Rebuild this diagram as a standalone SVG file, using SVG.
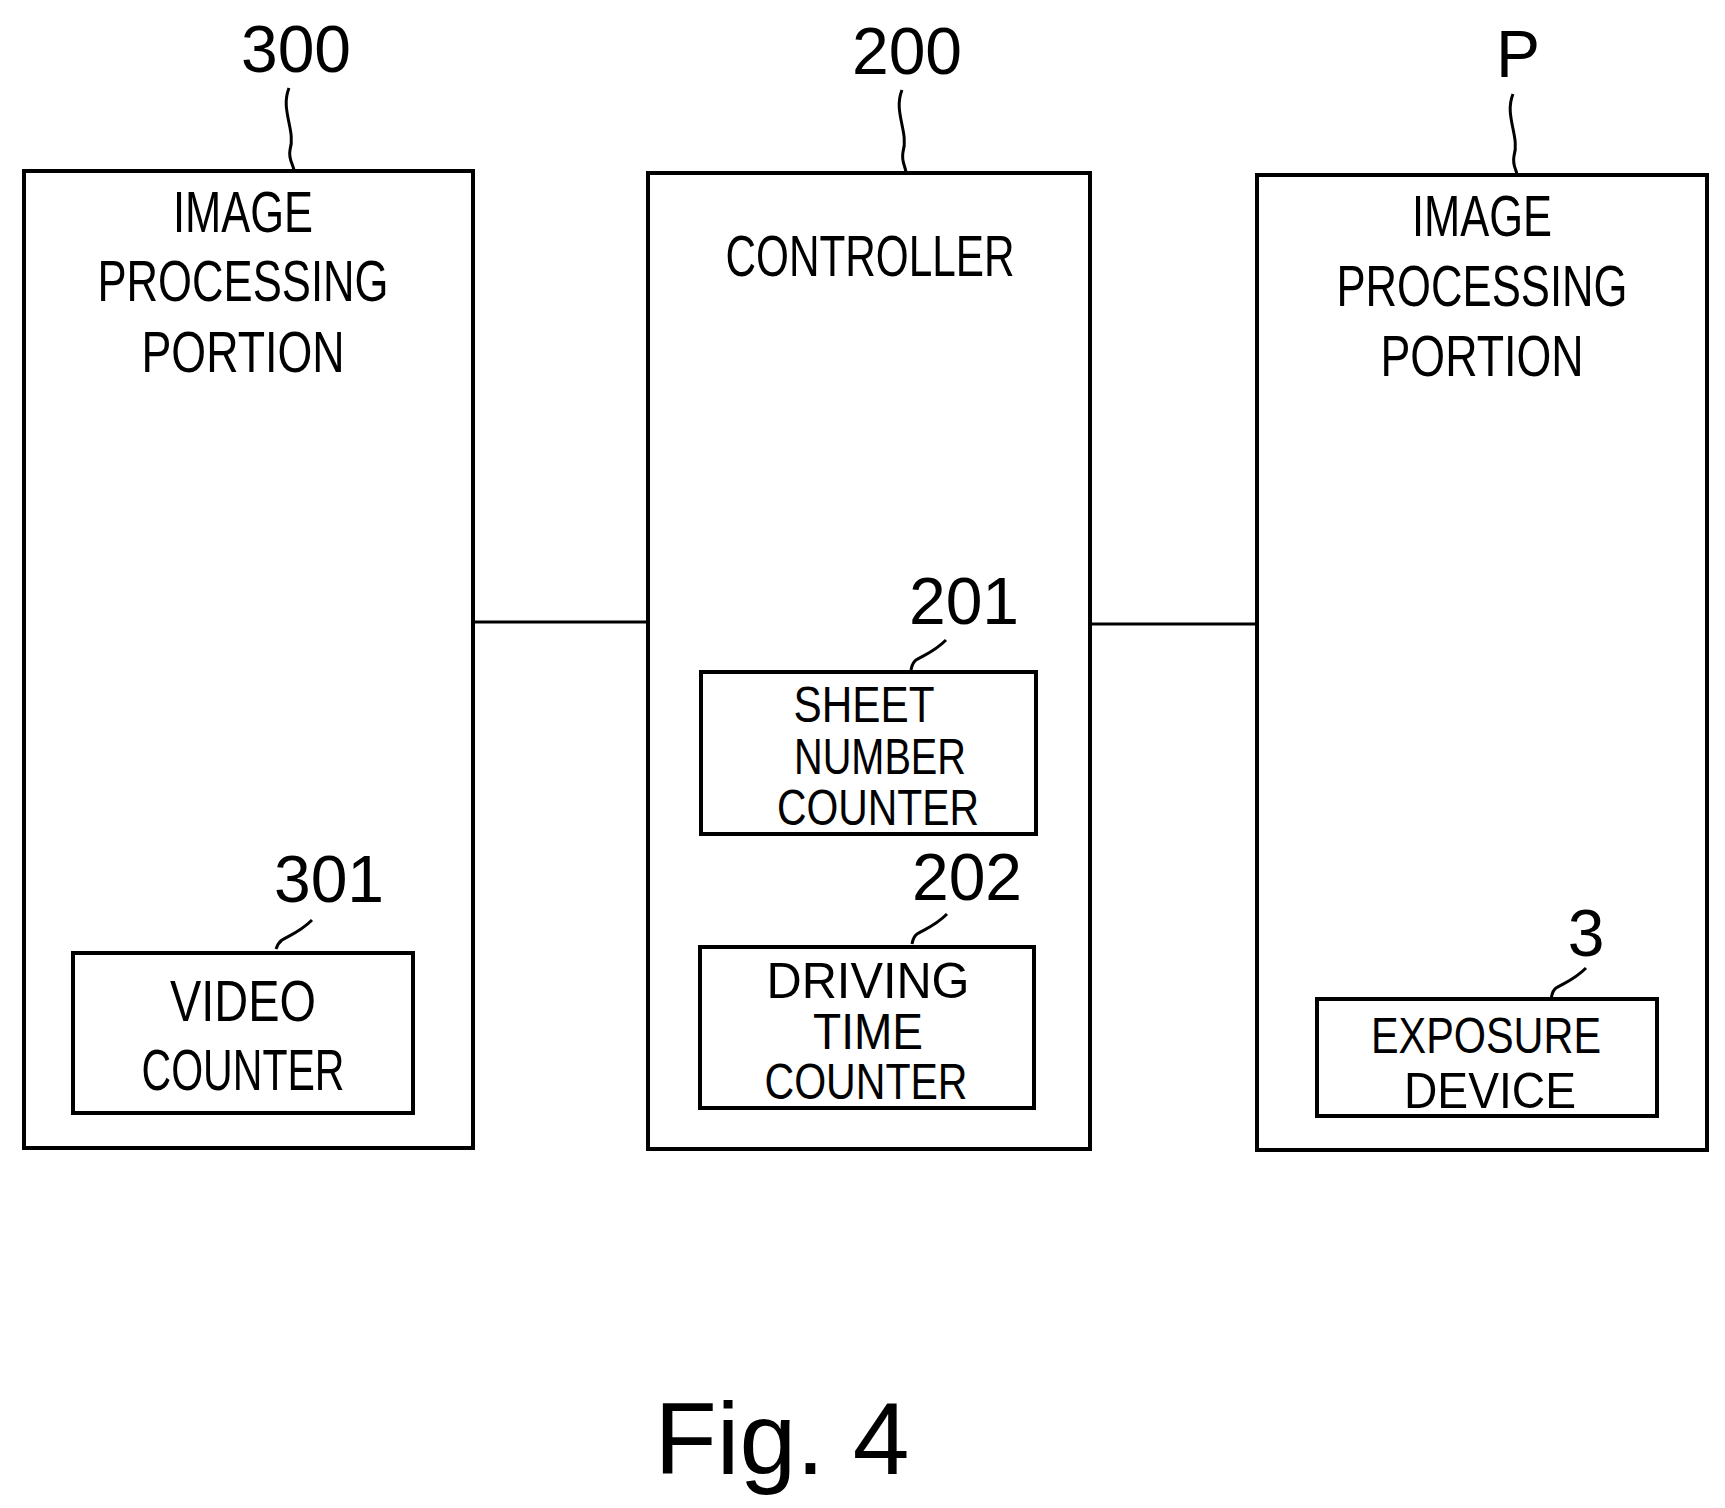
<svg xmlns="http://www.w3.org/2000/svg" width="1725" height="1508" viewBox="0 0 1725 1508">
<style>
rect.b{fill:none;stroke:#000;stroke-width:4}
.l{fill:none;stroke:#000;stroke-width:3}
text{font-family:"Liberation Sans",Arial,sans-serif;text-anchor:middle;fill:#000}
.n{font-size:66px}
.t{font-size:58px}
.s{font-size:50px}
</style>
<rect width="1725" height="1508" style="fill:#fff;stroke:none"/>
<g id="n300">
<text class="n" x="296" y="72">300</text>
<path class="l" d="M289 88 C280 110 296 130 290 150 C288 160 294 165 294 171"/>
<rect class="b" x="24" y="171" width="449" height="977"/>
<text class="t" x="243" y="232" textLength="140" lengthAdjust="spacingAndGlyphs">IMAGE</text>
<text class="t" x="243" y="301" textLength="291" lengthAdjust="spacingAndGlyphs">PROCESSING</text>
<text class="t" x="243" y="372" textLength="203" lengthAdjust="spacingAndGlyphs">PORTION</text>
</g>
<g id="n301">
<text class="n" x="329" y="902">301</text>
<path class="l" d="M312 920 C300 932 290 935 282 940 C278 943 277 946 276 949"/>
<rect class="b" x="73" y="953" width="340" height="160"/>
<text class="t" x="243" y="1021" textLength="146" lengthAdjust="spacingAndGlyphs">VIDEO</text>
<text class="t" x="243" y="1090" textLength="203" lengthAdjust="spacingAndGlyphs">COUNTER</text>
</g>
<g id="n200">
<text class="n" x="907" y="74">200</text>
<path class="l" d="M902 90 C893 112 909 132 903 152 C901 162 906 167 906 173"/>
<rect class="b" x="648" y="173" width="442" height="976"/>
<text class="t" x="870" y="276" textLength="289" lengthAdjust="spacingAndGlyphs">CONTROLLER</text>
</g>
<g id="n201">
<text class="n" x="964" y="624">201</text>
<path class="l" d="M946 640 C934 652 924 655 916 660 C912 663 912 666 911 670"/>
<rect class="b" x="701" y="672" width="335" height="162"/>
<text class="s" x="864" y="722" textLength="141" lengthAdjust="spacingAndGlyphs">SHEET</text>
<text class="s" x="880" y="774" textLength="172" lengthAdjust="spacingAndGlyphs">NUMBER</text>
<text class="s" x="878" y="825" textLength="202" lengthAdjust="spacingAndGlyphs">COUNTER</text>
</g>
<g id="n202">
<text class="n" x="967" y="900">202</text>
<path class="l" d="M947 914 C935 926 925 929 917 934 C913 937 913 940 912 944"/>
<rect class="b" x="700" y="947" width="334" height="161"/>
<text class="s" x="868" y="998" textLength="203" lengthAdjust="spacingAndGlyphs">DRIVING</text>
<text class="s" x="868" y="1049" textLength="110" lengthAdjust="spacingAndGlyphs">TIME</text>
<text class="s" x="866" y="1099" textLength="203" lengthAdjust="spacingAndGlyphs">COUNTER</text>
</g>
<g id="nP">
<text class="n" x="1518" y="77">P</text>
<path class="l" d="M1513 94 C1504 116 1520 136 1514 156 C1512 166 1517 170 1517 175"/>
<rect class="b" x="1257" y="175" width="450" height="975"/>
<text class="t" x="1482" y="236" textLength="140" lengthAdjust="spacingAndGlyphs">IMAGE</text>
<text class="t" x="1482" y="306" textLength="291" lengthAdjust="spacingAndGlyphs">PROCESSING</text>
<text class="t" x="1482" y="376" textLength="203" lengthAdjust="spacingAndGlyphs">PORTION</text>
</g>
<g id="n3">
<text class="n" x="1586" y="956">3</text>
<path class="l" d="M1586 968 C1574 980 1564 983 1556 988 C1552 991 1552 995 1551 999"/>
<rect class="b" x="1317" y="999" width="340" height="117"/>
<text class="s" x="1486" y="1053" textLength="230" lengthAdjust="spacingAndGlyphs">EXPOSURE</text>
<text class="s" x="1490" y="1108" textLength="172" lengthAdjust="spacingAndGlyphs">DEVICE</text>
</g>
<g id="connectors">
<line class="l" x1="473" y1="622" x2="648" y2="622"/>
<line class="l" x1="1090" y1="624" x2="1257" y2="624"/>
</g>
<text x="782" y="1474" style="font-size:102px">Fig. 4</text>
</svg>
